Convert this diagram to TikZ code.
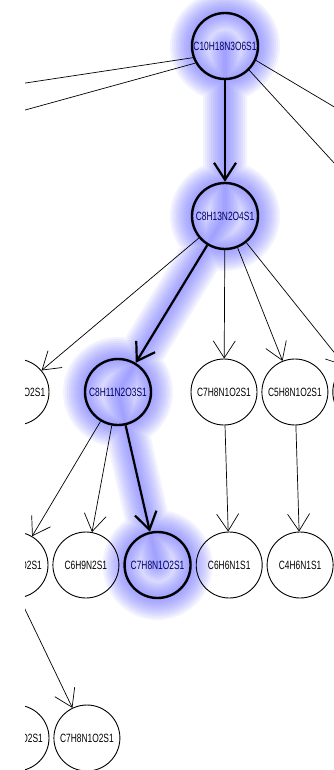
\documentclass[tikz,border=0pt]{standalone}
\usepackage{fontspec}
\setmainfont{Liberation Sans}
\usetikzlibrary{positioning,arrows.meta,backgrounds}

\definecolor{glow}{RGB}{95,95,255}
\newcommand{\fm}[1]{\scalebox{0.7}[1]{#1}}

\begin{document}
\begin{tikzpicture}
[x=1pt, y=-1pt, node distance=4pt,
 mol/.style={circle, draw, line width=0.9pt, minimum size=66pt, inner sep=0pt, font=\fontsize{12}{12}\selectfont},
 hit/.style={mol, line width=2.4pt, text=blue!40!black},
 link/.style={-{Straight Barb[length=17pt,width=22pt]}, line width=0.7pt},
 hitlink/.style={link, line width=2.2pt},
 halo/.style={glow, opacity=0.075, line cap=round, line join=round}]

\useasboundingbox (0,0) rectangle (334,770);
\clip (25,0) rectangle (334,770);

% main path
\node[hit] (m0) at (225,46) {\fm{C10H18N3O6S1}};
\node[hit] (m1) at (225,216) {\fm{C8H13N2O4S1}};

% third row
\node[mol] (a0) at (16,392) {\fm{C6H10N1O2S1}};
\node[hit] (m2) at (118,392) {\fm{C8H11N2O3S1}};
\node[mol] (a1) at (224,392) {\fm{C7H8N1O2S1}};
\node[mol] (a2)[right=of a1] {\fm{C5H8N1O2S1}};
\node[mol] (a3)[right=of a2] {\fm{C6H9N1O2S1}};

% fourth row
\node[mol] (b0) at (15,565) {\fm{C6H8N1O2S1}};
\node[mol] (b1)[right=of b0] {\fm{C6H9N2S1}};
\node[hit] (m3)[right=of b1] {\fm{C7H8N1O2S1}};
\node[mol] (b2)[right=of m3] {\fm{C6H6N1S1}};
\node[mol] (b3)[right=of b2] {\fm{C4H6N1S1}};
\node[mol] (b4)[right=of b3] {\fm{C4H5N1O1S1}};

% fifth row
\node[mol] (c0) at (16,738) {\fm{C6H9N1O2S1}};
\node[mol] (c1)[right=of c0] {\fm{C7H8N1O2S1}};

% neighbours outside the frame
\coordinate (w1) at (-120,105);
\coordinate (w2) at (-120,150);
\coordinate (e1) at (400,146);
\coordinate (e2) at (400,235);

\draw[hitlink] (m0) -- (m1);
\draw[line width=0.7pt] (m0.200) -- (w1);
\draw[line width=0.7pt] (m0.210) -- (w2);
\draw[line width=0.7pt] (m0.-25) -- (e1);
\draw[line width=0.7pt] (m0.-45) -- (e2);

\draw[link] (m1) -- (a0);
\draw[hitlink] (m1) -- (m2);
\draw[link] (m1) -- (a1);
\draw[link] (m1) -- (a2);
\draw[link] (m1) -- (a3);

\draw[link] (m2) -- (b0);
\draw[link] (m2) -- (b1);
\draw[hitlink] (m2) -- (m3);
\draw[link] (a1) -- (b2);
\draw[link] (a2) -- (b3);

\draw[link] (b0.-82) -- (c1);

% soft halo along the main path
\begin{scope}[on background layer]
\foreach \w in {44,40,...,4}
  \draw[halo, line width=\w pt] (m0.center) circle (33) (m1.center) circle (33)
    (m2.center) circle (33) (m3.center) circle (33)
    (m0.center) -- (m1.center) -- (m2.center) -- (m3.center);
\end{scope}

\end{tikzpicture}
\end{document}
